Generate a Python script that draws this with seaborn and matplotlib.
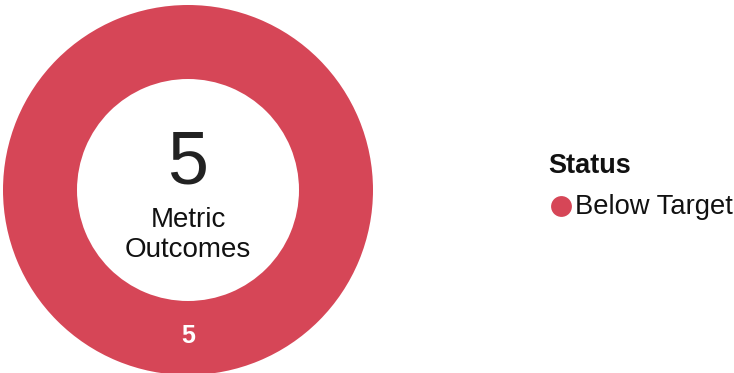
import matplotlib
matplotlib.use("Agg")
import matplotlib.pyplot as plt
from matplotlib.lines import Line2D
import seaborn as sns

# Outcome counts by status
statuses = ["Below Target"]
counts = [5]
colors = ["#D64657"]
caption_lines = ["Metric", "Outcomes"]
legend_title = "Status"

sns.set_theme(style="white")
plt.rcParams["font.family"] = ["Liberation Sans", "DejaVu Sans"]

W, H = 734, 373
fig = plt.figure(figsize=(W / 100, H / 100), dpi=100)


def fx(px):
    return px / W


def fy(py):
    return 1 - py / H


# Donut axes placed as a square in pixel space
cx, cy, r = 188, 190, 185
ax = fig.add_axes([fx(cx - r), fy(cy + r), 2 * r / W, 2 * r / H])

wedges, texts, autotexts = ax.pie(
    counts,
    colors=colors,
    startangle=90,
    counterclock=False,
    radius=1.0,
    wedgeprops=dict(width=0.4, edgecolor="none"),
    autopct=lambda p: f"{round(p * sum(counts) / 100):d}",
    pctdistance=0.79,
    textprops=dict(color="white", fontsize=18, fontweight="bold"),
)
ax.set_xlim(-1, 1)
ax.set_ylim(-1, 1)
ax.set_aspect("equal")
ax.axis("off")

# Center total and caption (baselines in pixel rows)
def data_y(py):
    return (cy - py) / r

ax.text(0, data_y(183), f"{sum(counts)}", ha="center", va="baseline",
        fontsize=53, color="#222222")
for line, base in zip(caption_lines, [227, 257]):
    ax.text(0, data_y(base), line, ha="center", va="baseline",
            fontsize=20, color="#111111")

# Legend: bold title, then circle marker + label per status
fig.text(fx(548), fy(173), legend_title, ha="left", va="baseline",
         fontsize=19.5, fontweight="bold", color="#111111")
for i, (name, c) in enumerate(zip(statuses, colors)):
    base = 214 + i * 30
    fig.add_artist(Line2D([fx(561)], [fy(base - 8)], transform=fig.transFigure,
                          marker="o", linestyle="none", markersize=15,
                          markerfacecolor=c, markeredgecolor="none"))
    fig.text(fx(575), fy(base), name, ha="left", va="baseline",
             fontsize=19.7, color="#111111")

fig.savefig("out.png", dpi=100)
